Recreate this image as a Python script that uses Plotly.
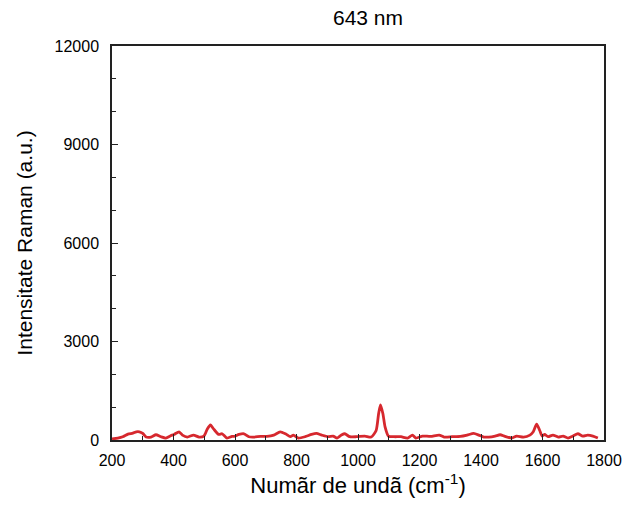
import plotly.graph_objects as go

wavenumber = [200, 219, 235, 252, 268, 279, 289, 300, 311, 327, 343, 359, 375, 391, 402, 418, 429, 445,
              465, 483, 499, 510, 520, 531, 547, 558, 574, 590, 597, 613, 629, 645, 661, 683, 704, 726,
              747, 764, 780, 790, 806, 828, 849, 865, 882, 903, 919, 932, 946, 957, 973, 995, 1022, 1043,
              1059, 1067, 1073, 1081, 1088, 1099, 1118, 1140, 1161, 1177, 1188, 1210, 1236, 1264, 1280,
              1306, 1333, 1355, 1376, 1393, 1409, 1425, 1446, 1462, 1478, 1500, 1516, 1538, 1559, 1570,
              1581, 1591, 1599, 1607, 1618, 1634, 1651, 1667, 1683, 1699, 1715, 1731, 1747, 1764, 1780]
intensity = [30, 60, 100, 180, 210, 250, 250, 200, 90, 90, 160, 100, 60, 130, 170, 250, 150, 90,
             150, 90, 120, 335, 460, 330, 170, 190, 60, 110, 110, 170, 190, 100, 90, 110, 110, 150,
             250, 190, 100, 150, 60, 100, 170, 200, 150, 100, 120, 60, 150, 190, 100, 100, 120, 90,
             290, 800, 1070, 800, 400, 120, 100, 100, 60, 150, 60, 120, 110, 150, 90,
             100, 110, 150, 200, 150, 90, 90, 120, 160, 110, 60, 120, 90, 150, 250,
             480, 290, 120, 170, 100, 150, 90, 120, 60, 120, 190, 120, 150, 120, 60]

title_text = "643 nm"
x_title = "Numãr de undã (cm<sup>-1</sup>)"
y_title = "Intensitate Raman (a.u.)"

fig = go.Figure()
fig.add_trace(go.Scatter(x=wavenumber, y=intensity, mode="lines",
                         line=dict(color="#d6282e", width=2.8, shape="spline", smoothing=0.6),
                         showlegend=False))

font_family = "Liberation Sans, Arial, sans-serif"
axis_common = dict(showline=True, linecolor="#222222", linewidth=1.5, mirror=True,
                   ticks="inside", ticklen=6, tickwidth=1.3, tickcolor="#222222",
                   showgrid=False, zeroline=False, tickformat="d",
                   tickfont=dict(family=font_family, size=16, color="black"))

fig.update_layout(
    width=634, height=516,
    margin=dict(l=112, r=26, t=46, b=76),
    paper_bgcolor="white", plot_bgcolor="white",
    title=dict(text=title_text, x=368 / 634, xanchor="center", y=1 - 18 / 516, yanchor="middle",
               font=dict(family=font_family, size=21, color="black")),
    font=dict(family=font_family, color="black"),
)
fig.update_xaxes(range=[200, 1800], dtick=200, tick0=200, ticklabelstandoff=5,
                 minor=dict(dtick=100, ticks="inside", ticklen=4, tickcolor="#222222", tickwidth=1.2),
                 title=dict(text=x_title, font=dict(family=font_family, size=22, color="black"), standoff=10),
                 **axis_common)
fig.update_yaxes(range=[0, 12000], dtick=3000, tick0=0, ticklabelstandoff=8,
                 minor=dict(dtick=1000, ticks="inside", ticklen=4, tickcolor="#222222", tickwidth=1.2),
                 title=dict(text=y_title, font=dict(family=font_family, size=21, color="black"), standoff=16),
                 **axis_common)

fig.write_html("out.html")
